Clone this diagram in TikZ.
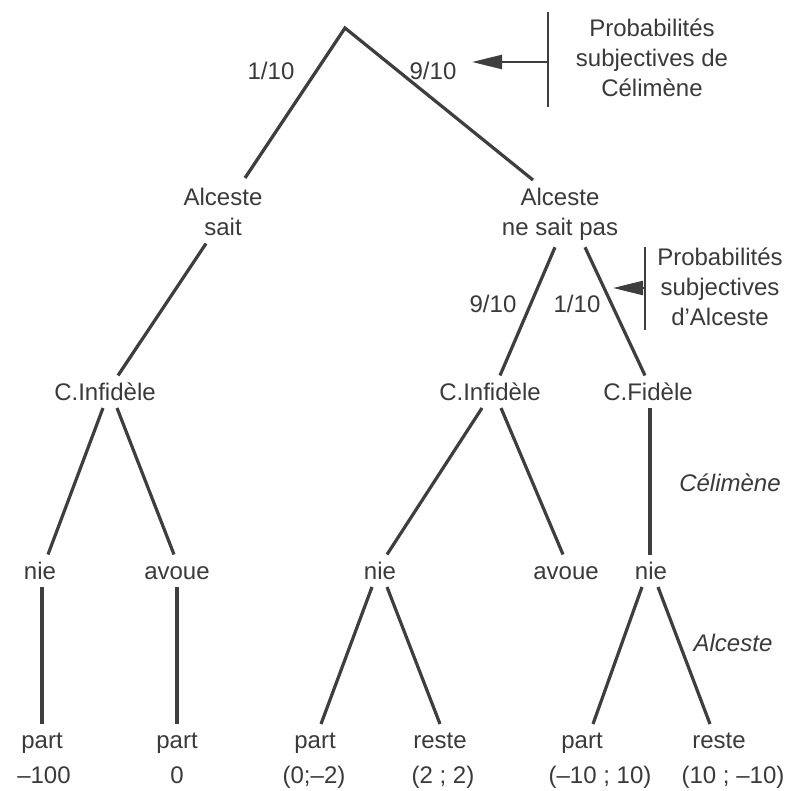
\documentclass[tikz,border=0pt]{standalone}
\usepackage{fontspec}
\setmainfont{Liberation Sans}
\usetikzlibrary{arrows.meta}
\definecolor{ink}{HTML}{3A3A3A}
\definecolor{wire}{HTML}{3E3E3E}
\begin{document}
\begin{tikzpicture}[x=1pt,y=-1pt,
  every node/.style={font=\fontsize{24}{30}\selectfont, text=ink, inner sep=0pt},
  word/.style={anchor=base, text height=17.5pt, text depth=1pt, outer xsep=0pt, outer ysep=7pt},
  twoline/.style={anchor=north, align=center},
  note/.style={anchor=base, font=\itshape\fontsize{24}{30}\selectfont},
  prob/.style={anchor=base},
  branch/.style={draw=wire, line width=3.2pt, line join=miter},
  bar/.style={draw=wire, line width=2.8pt},
  pointer/.style={draw=wire, line width=2.4pt, -{Triangle[length=30pt,width=14pt]}}]
\useasboundingbox (0,0) rectangle (792,791);
\fill[white] (0,0) rectangle (792,791);

% chance move at the root
\coordinate (root) at (345,28);
\node[prob] (pL) at (271,80) {1/10};
\node[prob] (pR) at (433,80) {9/10};

% Alceste's state of knowledge
\node[twoline] (aL) at (223,187.5) {Alceste\\sait};
\node[twoline] (aR) at (560,187.5) {Alceste\\ne sait pas};

% Célimène's type
\node[word] (cL) at (105,400) {C.Infidèle};
\node[word] (cR) at (490,400) {C.Infidèle};
\node[word] (cF) at (648,400) {C.Fidèle};
\node[prob] (qL) at (493,313) {9/10};
\node[prob] (qR) at (577,313) {1/10};

% Célimène's answer
\node[word] (n1) at (40,579) {nie};
\node[word] (v1) at (177,579) {avoue};
\node[word] (n2) at (380,579) {nie};
\node[word] (v2) at (566,579) {avoue};
\node[word] (n3) at (651,579) {nie};

% Alceste's move
\node[word] (t1) at (42,748.5) {part};
\node[word] (t2) at (177,748.5) {part};
\node[word] (t3) at (315,748.5) {part};
\node[word] (t4) at (440,748.5) {reste};
\node[word] (t5) at (582,748.5) {part};
\node[word] (t6) at (719,748.5) {reste};

% payoffs
\node[prob] (u1) at (44,783) {–100};
\node[prob] (u2) at (177,783) {0};
\node[prob] (u3) at (314,783) {(0;–2)};
\node[prob] (u4) at (443,783) {(2 ; 2)};
\node[prob] (u5) at (600,783) {(–10 ; 10)};
\node[prob] (u6) at (733,783) {(10 ; –10)};

% player labels
\node[note] (who1) at (730,491) {Célimène};
\node[note] (who2) at (733,651) {Alceste};

% branches
\draw[branch] ([xshift=22pt,yshift=9.5pt]aL.north) -- (root) -- ([xshift=-27pt,yshift=7.5pt]aR.north);
\draw[branch] ([xshift=-17pt,yshift=-8pt]aL.south) -- ([xshift=13pt]cL.north);
\draw[branch] ([xshift=-5pt,yshift=-7pt]aR.south) -- ([xshift=10pt]cR.north);
\draw[branch] ([xshift=25pt,yshift=-7pt]aR.south) -- ([xshift=-3pt]cF.north);

\draw[branch] ([xshift=-2pt]cL.south) -- ([xshift=8pt]n1.north);
\draw[branch] ([xshift=12pt]cL.south) -- ([xshift=-3pt]v1.north);
\draw[branch] ([xshift=-8pt]cR.south) -- ([xshift=7pt]n2.north);
\draw[branch] ([xshift=11pt]cR.south) -- ([xshift=-3pt]v2.north);
\draw[branch] ([xshift=2pt]cF.south) -- ([xshift=-1pt]n3.north);

\draw[branch] ([xshift=2pt]n1.south) -- (t1.north);
\draw[branch] (v1.south) -- (t2.north);
\draw[branch] ([xshift=-8pt]n2.south) -- ([xshift=6pt]t3.north);
\draw[branch] ([xshift=7pt]n2.south) -- ([xshift=0pt]t4.north);
\draw[branch] ([xshift=-9pt]n3.south) -- ([xshift=11pt]t5.north);
\draw[branch] ([xshift=7pt]n3.south) -- ([xshift=-9pt]t6.north);

% subjective probability annotations
\node[twoline] (sC) at (652,19) {Probabilités\\subjectives de\\Célimène};
\coordinate (bC1) at (548,12);
\coordinate (bC2) at (548,107);
\coordinate (bCm) at (548,62);
\coordinate (tipC) at (472,62);
\draw[bar] (bC1) -- (bC2);
\draw[pointer] (bCm) -- (tipC);

\node[twoline] (sA) at (720,247.5) {Probabilités\\subjectives\\d'Alceste};
\coordinate (bA1) at (645,247);
\coordinate (bA2) at (645,330);
\coordinate (bAm) at (645,288);
\coordinate (tipA) at (613,288);
\draw[bar] (bA1) -- (bA2);
\draw[pointer] (bAm) -- (tipA);
\end{tikzpicture}
\end{document}
